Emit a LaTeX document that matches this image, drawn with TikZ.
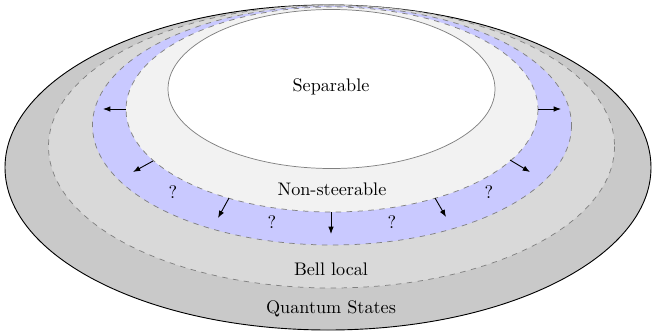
\documentclass[tikz,border=0pt]{standalone}
\usetikzlibrary{arrows.meta}
\begin{document}
\begin{tikzpicture}[x=0.55pt,y=-0.55pt,
  region/.style={draw=gray, line width=0.4pt},
  dashedregion/.style={draw=gray, dashed, line width=0.4pt},
  lbl/.style={font=\normalsize, inner sep=1pt},
  growarrow/.style={-{Latex[length=4pt,width=3pt]}, line width=0.5pt}]
\useasboundingbox (0,0) rectangle (654,332);
% regions
\fill[black!21] (328,167.5) ellipse [x radius=323, y radius=162.5];
\draw[black, line width=0.5pt] (328,167.5) ellipse [x radius=323, y radius=162.5];
\filldraw[fill=black!15, dashedregion] (331.5,146.5) ellipse [x radius=283, y radius=141.5];
\filldraw[fill=blue!21, dashedregion] (332,125.5) ellipse [x radius=239.5, y radius=119.5];
\filldraw[fill=black!5, dashedregion] (332,109.5) ellipse [x radius=206, y radius=102.5];
\filldraw[fill=white, region] (331.5,89) ellipse [x radius=163.5, y radius=79.5];
% labels
\node[lbl] (sep) at (331,87) {Separable};
\node[lbl] (ns) at (332,189) {Non-steerable};
\node[lbl] (bell) at (331,269) {Bell local};
\node[lbl] (qs) at (331,309) {Quantum States};
\node[lbl] (q1) at (173,192) {?};
\node[lbl] (q2) at (272,222) {?};
\node[lbl] (q3) at (392,222) {?};
\node[lbl] (q4) at (489,192) {?};
% arrows
\coordinate (a1s) at (126,109); \coordinate (a1e) at (103,109);
\coordinate (a2s) at (538,109); \coordinate (a2e) at (561,109);
\coordinate (a3s) at (153,161); \coordinate (a3e) at (133,172);
\coordinate (a4s) at (510,160); \coordinate (a4e) at (530,172);
\coordinate (a5s) at (229,198); \coordinate (a5e) at (218,218);
\coordinate (a6s) at (435,198); \coordinate (a6e) at (446,217);
\coordinate (a7s) at (331,212); \coordinate (a7e) at (331,234);
\foreach \i in {1,...,7} \draw[growarrow] (a\i s) -- (a\i e);
\end{tikzpicture}
\end{document}
